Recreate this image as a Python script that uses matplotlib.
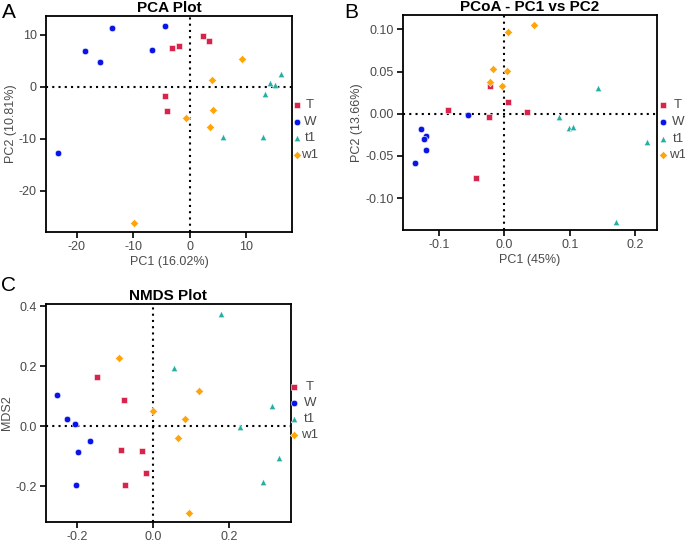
import matplotlib
matplotlib.use('Agg')
import matplotlib.pyplot as plt

plt.rcParams['font.family'] = ['Liberation Sans', 'DejaVu Sans']

groups = ['T', 'W', 't1', 'w1']
colors = {'T': '#d8234a', 'W': '#0a14e6', 't1': '#26aea4', 'w1': '#ffa50a'}
markers = {'T': 's', 'W': 'o', 't1': '^', 'w1': 'D'}

# PCA scores (PC1, PC2)
pca_x = {
    'T': [-3.1, -1.8, 2.3, 3.5, -4.4, -4.0],
    'W': [-13.8, -4.3, -18.6, -16.0, -6.6, -23.3],
    't1': [16.2, 14.3, 15.2, 13.4, 6.0, 13.0],
    'w1': [9.3, 4.0, 4.1, -0.6, 3.6, -9.9],
}
pca_y = {
    'T': [7.4, 7.8, 9.7, 8.8, -1.7, -4.6],
    'W': [11.2, 11.7, 6.9, 4.7, 7.1, -12.7],
    't1': [2.4, 0.7, 0.4, -1.4, -9.6, -9.6],
    'w1': [5.3, 1.3, -4.4, -6.0, -7.7, -26.1],
}

# PCoA scores
pcoa_x = {
    'T': [-0.022, 0.005, -0.086, -0.024, 0.035, -0.043],
    'W': [-0.056, -0.127, -0.120, -0.123, -0.120, -0.136],
    't1': [0.143, 0.083, 0.099, 0.104, 0.218, 0.170],
    'w1': [0.006, -0.017, 0.004, -0.022, -0.003, 0.0455],
}
pcoa_y = {
    'T': [0.033, 0.0135, 0.004, -0.0036, 0.002, -0.076],
    'W': [-0.002, -0.018, -0.026, -0.030, -0.043, -0.058],
    't1': [0.031, -0.0036, -0.017, -0.016, -0.034, -0.128],
    'w1': [0.097, 0.053, 0.051, 0.038, 0.033, 0.105],
}

# NMDS scores
nmds_x = {
    'T': [-0.146, -0.076, -0.085, -0.030, -0.018, -0.073],
    'W': [-0.253, -0.225, -0.204, -0.165, -0.198, -0.202],
    't1': [0.180, 0.055, 0.313, 0.228, 0.331, 0.290],
    'w1': [-0.088, 0.122, 0.0, 0.084, 0.067, 0.096],
}
nmds_y = {
    'T': [0.166, 0.089, -0.078, -0.082, -0.157, -0.197],
    'W': [0.104, 0.026, 0.009, -0.050, -0.086, -0.194],
    't1': [0.374, 0.195, 0.067, -0.003, -0.104, -0.186],
    'w1': [0.229, 0.119, 0.052, 0.024, -0.039, -0.288],
}

fig = plt.figure(figsize=(6.85, 5.4), dpi=100)

panels = [
    # rect, xs, ys, title, xlabel, ylabel, xlim, ylim, xticks, yticks, tick labels, legend layout
    ([0.0672, 0.5704, 0.3591, 0.400], pca_x, pca_y, 'PCA Plot', 'PC1 (16.02%)', 'PC2 (10.81%)',
     (-25.5, 18.2), (-27.9, 13.6), [-20, -10, 0, 10], [-20, -10, 0, 10],
     (['-20', '-10', '0', '10'], ['-20', '-10', '0', '10']), (1.019, 1.073, 0.588, 0.0773)),
    ([0.5883, 0.5740, 0.3708, 0.398], pcoa_x, pcoa_y, 'PCoA - PC1 vs PC2', 'PC1 (45%)', 'PC2 (13.66%)',
     (-0.155, 0.233), (-0.138, 0.117), [-0.1, 0.0, 0.1, 0.2], [-0.10, -0.05, 0.0, 0.05, 0.10],
     (['-0.1', '0.0', '0.1', '0.2'], ['-0.10', '-0.05', '0.00', '0.05', '0.10']),
     (1.024, 1.083, 0.581, 0.0777)),
    ([0.0667, 0.0339, 0.3580, 0.4026], nmds_x, nmds_y, 'NMDS Plot', 'MDS1', 'MDS2',
     (-0.282, 0.363), (-0.318, 0.407), [-0.2, 0.0, 0.2], [-0.2, 0.0, 0.2, 0.4],
     (['-0.2', '0.0', '0.2'], ['-0.2', '0.0', '0.2', '0.4']), (1.012, 1.077, 0.621, 0.0745)),
]

gray = '#4a4a4a'
for i, (rect, xs, ys, title, xl, yl, xlim, ylim, xt, yt, tl, lg) in enumerate(panels):
    ax = fig.add_axes(rect)
    ax.axhline(0, color='black', linestyle=(0, (1, 2)), linewidth=1.5, zorder=1)
    ax.axvline(0, color='black', linestyle=(0, (1, 2)), linewidth=1.5, zorder=1)
    for g in groups:
        ms = 22 if markers[g] != 'D' else 18
        ax.scatter(xs[g], ys[g], s=ms, marker=markers[g], color=colors[g],
                   edgecolors='white', linewidths=0.4, zorder=3)
    ax.set_xlim(*xlim)
    ax.set_ylim(*ylim)
    ax.set_xticks(xt)
    ax.set_yticks(yt)
    ax.set_xticklabels(tl[0])
    ax.set_yticklabels(tl[1])
    for s in ax.spines.values():
        s.set_linewidth(1.3)
    ax.tick_params(direction='out', length=4.3, width=1.2, labelsize=9,
                   labelcolor=gray, pad=2.4)
    ax.set_title(title, fontsize=11, fontweight='bold', pad=3)
    if i != 2:
        ax.set_xlabel(xl, fontsize=9, color=gray, labelpad=2)
    ax.set_ylabel(yl, fontsize=9, color=gray, labelpad=1.5)

    # legend: marker column + centred label column to the right of the panel
    mx, tx, y0, step = lg
    for k, g in enumerate(groups):
        yy = y0 - k * step
        ms = 22 if markers[g] != 'D' else 18
        ax.scatter([mx], [yy], s=ms, marker=markers[g], color=colors[g],
                   edgecolors='white', linewidths=0.4, transform=ax.transAxes,
                   clip_on=False, zorder=3)
        ax.text(tx, yy, g, transform=ax.transAxes, ha='center', va='center',
                fontsize=9.5, color=gray)

fig.text(0.003, 0.995, 'A', fontsize=15, va='top', ha='left')
fig.text(0.503, 0.995, 'B', fontsize=15, va='top', ha='left')
fig.text(0.001, 0.488, 'C', fontsize=15, va='top', ha='left')

fig.savefig('out.png', dpi=100)
